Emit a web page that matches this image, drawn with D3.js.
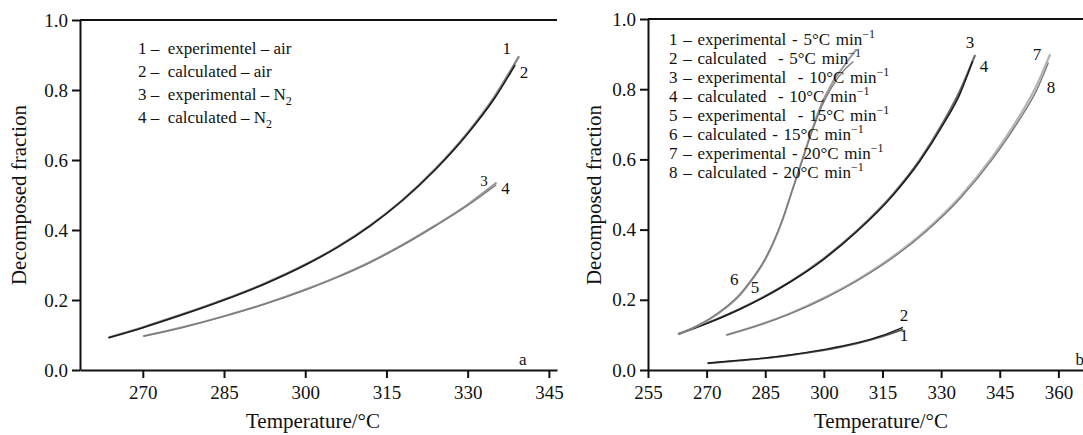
<!DOCTYPE html>
<html>
<head>
<meta charset="utf-8">
<script src="https://cdn.jsdelivr.net/npm/d3@7/dist/d3.min.js"></script>
<style>
  html, body { margin: 0; padding: 0; background: #fff; }
  svg { display: block; }
  text { font-family: "Liberation Serif", "Times New Roman", serif; fill: #111; white-space: pre; }
</style>
</head>
<body>
<svg id="chart" width="1083" height="435"></svg>
<script>
// ---------------- DATA ----------------
// Panel a (left): decomposition in air and N2
const airTemps     = [263.8, 270, 277.5, 285, 292.5, 300, 306, 312, 318, 324, 330, 335, 339.4];
const airExp       = [0.093, 0.122, 0.160, 0.201, 0.247, 0.301, 0.352, 0.413, 0.486, 0.574, 0.678, 0.782, 0.894];
const airCalcTemps = [263.8, 270, 277.5, 285, 292.5, 300, 306, 312, 318, 324, 330, 335, 338.7];
const airCalc      = [0.093, 0.121, 0.159, 0.200, 0.246, 0.300, 0.351, 0.412, 0.485, 0.572, 0.675, 0.777, 0.870];
const n2Temps      = [270.2, 277.5, 285, 292.5, 300, 306, 312, 318, 324, 330, 335.2];
const n2Exp        = [0.097, 0.123, 0.154, 0.189, 0.230, 0.267, 0.309, 0.358, 0.413, 0.473, 0.534];
const n2Calc       = [0.097, 0.122, 0.153, 0.188, 0.228, 0.265, 0.307, 0.356, 0.411, 0.470, 0.528];

// Panel b (right): heating rates
const r5Temps   = [270.4, 278.5, 284.6, 291.3, 299.8, 308.3, 314.8, 320.1];
const r5Exp     = [0.019, 0.027, 0.033, 0.042, 0.056, 0.075, 0.095, 0.115];
const r5Calc    = [0.020, 0.028, 0.034, 0.043, 0.058, 0.077, 0.098, 0.121];
const r10Temps  = [262.9, 270, 278.5, 284.6, 291.3, 299.8, 308.3, 317.7, 324.5, 330.5, 334.8, 338.6];
const r10Exp    = [0.103, 0.133, 0.174, 0.208, 0.251, 0.316, 0.395, 0.501, 0.598, 0.705, 0.795, 0.895];
const r10Calc   = [0.103, 0.132, 0.173, 0.207, 0.250, 0.314, 0.393, 0.498, 0.594, 0.699, 0.786, 0.878];
const r15Temps  = [262.9, 267, 271, 275, 278.5, 281.5, 284.5, 287, 289.5, 292, 294.5, 297, 299.5, 302, 305, 308.2];
const r15Exp    = [0.103, 0.122, 0.146, 0.178, 0.213, 0.255, 0.305, 0.360, 0.430, 0.515, 0.600, 0.685, 0.760, 0.815, 0.864, 0.912];
const r15Calc   = [0.103, 0.123, 0.148, 0.180, 0.216, 0.258, 0.308, 0.363, 0.432, 0.515, 0.598, 0.680, 0.752, 0.805, 0.852, 0.878];
const r20Temps  = [275.2, 284.6, 291.3, 299.8, 308.3, 316.9, 326.3, 334.8, 343.3, 350.1, 354.4, 357.8];
const r20Exp    = [0.100, 0.133, 0.161, 0.204, 0.255, 0.317, 0.400, 0.493, 0.610, 0.724, 0.810, 0.897];
const r20Calc   = [0.100, 0.132, 0.160, 0.202, 0.253, 0.314, 0.396, 0.488, 0.603, 0.714, 0.796, 0.874];

// Tick labels
const ticksXLeft  = [270, 285, 300, 315, 330, 345];
const ticksXRight = [255, 270, 285, 300, 315, 330, 345, 360];
const ticksY      = [0, 0.2, 0.4, 0.6, 0.8, 1.0];

// Legend texts
const legendLeft = [
  {t: "1 –  experimentel – air", sub: ""},
  {t: "2 –  calculated – air", sub: ""},
  {t: "3 –  experimental – N", sub: "2"},
  {t: "4 –  calculated – N", sub: "2"}
];
const legendRight = [
  "1 – experimental - 5°C min",
  "2 – calculated  - 5°C min",
  "3 – experimental  - 10°C min",
  "4 – calculated  - 10°C min",
  "5 – experimental  - 15°C min",
  "6 – calculated - 15°C min",
  "7 – experimental - 20°C min",
  "8 – calculated - 20°C min"
];

// Curve number labels (data units: temperature, fraction)
const labelsLeft = [
  {n: "1", T: 337.2, v: 0.920}, {n: "2", T: 340.4, v: 0.852},
  {n: "3", T: 333.0, v: 0.540, small: true}, {n: "4", T: 337.0, v: 0.520}
];
const labelsRight = [
  {n: "3", T: 337.4, v: 0.935}, {n: "4", T: 341.0, v: 0.866},
  {n: "7", T: 354.5, v: 0.900}, {n: "8", T: 358.1, v: 0.807},
  {n: "2", T: 320.5, v: 0.157}, {n: "1", T: 320.5, v: 0.100},
  {n: "6", T: 277.1, v: 0.259}, {n: "5", T: 282.4, v: 0.236}
];

// ---------------- DRAW ----------------
const svg = d3.select("#chart");
const fmt = d3.format(".1f");

function panel(opt) {
  const x = d3.scaleLinear().domain(opt.xDomain).range(opt.xRange);
  const y = d3.scaleLinear().domain([0, 1]).range(opt.yRange);
  const g = svg.append("g");

  // top frame line
  g.append("line")
    .attr("x1", x.range()[0]).attr("x2", x.range()[1])
    .attr("y1", y(1)).attr("y2", y(1))
    .attr("stroke", "#111").attr("stroke-width", 2);

  const ax = g.append("g").attr("transform", `translate(0,${y(0)})`)
    .call(d3.axisBottom(x).tickValues(opt.xTicks).tickSizeInner(8).tickSizeOuter(0).tickPadding(8).tickFormat(d3.format("d")));
  const ay = g.append("g").attr("transform", `translate(${x.range()[0]},0)`)
    .call(d3.axisLeft(y).tickValues(ticksY).tickSizeInner(8).tickSizeOuter(0).tickPadding(4).tickFormat(fmt));
  [ax, ay].forEach(a => {
    a.select(".domain").attr("stroke", "#111").attr("stroke-width", 2);
    a.selectAll(".tick line").attr("stroke", "#111").attr("stroke-width", 2);
    a.selectAll(".tick text").attr("font-size", 19).attr("fill", "#111")
      .attr("font-family", "Liberation Serif, Times New Roman, serif");
  });

  // axis titles
  g.append("text")
    .attr("x", opt.xTitleX).attr("y", 428)
    .attr("text-anchor", "middle").attr("font-size", 21)
    .text("Temperature/°C");
  g.append("text")
    .attr("transform", `translate(${opt.yTitleX},195) rotate(-90)`)
    .attr("text-anchor", "middle").attr("font-size", 21)
    .text("Decomposed fraction");

  const line = d3.line().x(d => x(d[0])).y(d => y(d[1])).curve(d3.curveMonotoneX);
  opt.series.forEach(s => {
    const pts = s.T.map((t, i) => [t, s.v[i]]);
    g.append("path").attr("d", line(pts)).attr("fill", "none")
      .attr("stroke", s.color).attr("stroke-width", s.w)
      .attr("stroke-linejoin", "round").attr("stroke-linecap", "round");
  });

  opt.labels.forEach(l => {
    g.append("text").attr("x", x(l.T)).attr("y", y(l.v)).attr("dy", "0.35em")
      .attr("text-anchor", "middle").attr("font-size", l.small ? 15 : 17).text(l.n);
  });
  g.append("text").attr("x", x(opt.letter.T)).attr("y", y(opt.letter.v)).attr("dy", "0.35em")
    .attr("text-anchor", "middle").attr("font-size", 17).text(opt.letter.n);
  return {x, y, g};
}

const dark = "#1c1c1c", gray = "#7a7a7a";

const L = panel({
  xDomain: [258.4, 346.5], xRange: [80, 557], yRange: [370, 20],
  xTicks: ticksXLeft, xTitleX: 313, yTitleX: 26,
  series: [
    {T: airTemps, v: airExp, color: "#8a8a8a", w: 2.4},
    {T: airCalcTemps, v: airCalc, color: dark, w: 1.6},
    {T: n2Temps, v: n2Exp, color: "#9a9a9a", w: 2.0},
    {T: n2Temps, v: n2Calc, color: gray, w: 1.3}
  ],
  labels: labelsLeft,
  letter: {n: "a", T: 340.2, v: 0.03}
});

const R = panel({
  xDomain: [255, 366.3], xRange: [648, 1083], yRange: [370, 19],
  xTicks: ticksXRight, xTitleX: 881, yTitleX: 601,
  series: [
    {T: r5Temps, v: r5Exp, color: "#555", w: 1.8},
    {T: r5Temps, v: r5Calc, color: dark, w: 1.3},
    {T: r10Temps, v: r10Exp, color: "#6a6a6a", w: 2.2},
    {T: r10Temps.slice(0, -1).concat([338.0]), v: r10Calc, color: dark, w: 1.5},
    {T: r15Temps, v: r15Exp, color: "#9a9a9a", w: 2.0},
    {T: r15Temps.slice(0, -1).concat([307.5]), v: r15Calc, color: gray, w: 1.3},
    {T: r20Temps, v: r20Exp, color: "#b5b5b5", w: 2.4},
    {T: r20Temps.slice(0, -1).concat([357.4]), v: r20Calc, color: gray, w: 1.3}
  ],
  labels: labelsRight,
  letter: {n: "b", T: 365.5, v: 0.03}
});

// Legends
const lgL = L.g.append("g");
legendLeft.forEach((d, i) => {
  const t = lgL.append("text").attr("x", 138).attr("y", 54 + i * 23).attr("font-size", 17);
  t.append("tspan").text(d.t);
  if (d.sub) t.append("tspan").attr("dy", 5).attr("font-size", 12).text(d.sub);
});
const lgR = R.g.append("g");
legendRight.forEach((d, i) => {
  const t = lgR.append("text").attr("x", 669).attr("y", 45 + i * 18.95)
    .attr("font-size", 17).style("word-spacing", "1.5px");
  t.append("tspan").text(d);
  t.append("tspan").attr("dy", -7).attr("font-size", 12).text("−1");
});
</script>
</body>
</html>
